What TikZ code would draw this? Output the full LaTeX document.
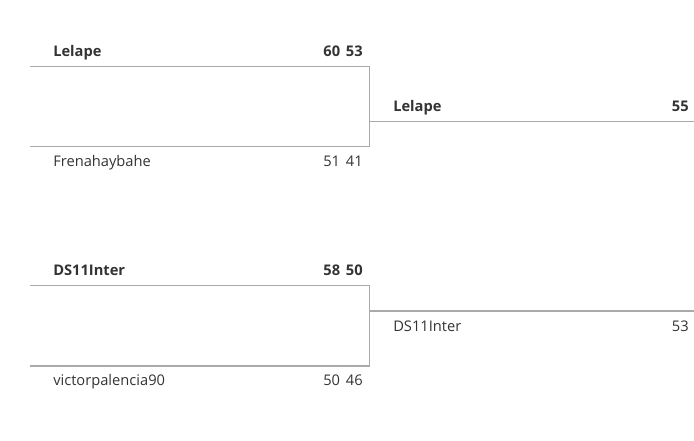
\documentclass[tikz,border=0pt]{standalone}
\usepackage{fontspec}
\setmainfont{Open Sans}
\definecolor{txt}{HTML}{333333}
\definecolor{ln}{HTML}{AAAAAA}
\newcommand{\gapsc}{\hspace{0.4em}}
\tikzset{
  nm/.style={anchor=base west, inner sep=0pt, text=txt, font=\fontsize{11}{13}\selectfont},
  sc/.style={anchor=base east, inner sep=0pt, text=txt, font=\fontsize{11}{13}\selectfont},
  win/.style={font=\fontsize{11}{13}\selectfont\bfseries},
  br/.style={draw=ln, line width=0.8pt}
}
\begin{document}
\begin{tikzpicture}[x=0.75pt,y=-0.75pt]
\useasboundingbox (0,0) rectangle (694,441);
% round 1, match 1
\node[nm,win] (a1) at (53,57) {Lelape};
\node[sc,win] (a1s) at (363,57) {60\gapsc 53};
\node[nm] (a2) at (53,167) {Frenahaybahe};
\node[sc] (a2s) at (363,167) {51\gapsc 41};
% round 1, match 2
\node[nm,win] (b1) at (53,276) {DS11Inter};
\node[sc,win] (b1s) at (363,276) {58\gapsc 50};
\node[nm] (b2) at (53,386) {victorpalencia90};
\node[sc] (b2s) at (363,386) {50\gapsc 46};
% final
\node[nm,win] (f1) at (393,112) {Lelape};
\node[sc,win] (f1s) at (689,112) {55};
\node[nm] (f2) at (393,332) {DS11Inter};
\node[sc] (f2s) at (689,332) {53};
% bracket lines
\coordinate (m1tl) at (30,66.5);
\coordinate (m1tr) at (369.5,66.5);
\coordinate (m1bl) at (30,146.5);
\coordinate (m1br) at (369.5,146.5);
\coordinate (m1o) at (369.5,121.5);
\coordinate (f1e) at (694,121.5);
\coordinate (m2tl) at (30,285.5);
\coordinate (m2tr) at (369.5,285.5);
\coordinate (m2bl) at (30,366);
\coordinate (m2br) at (369.5,366);
\coordinate (m2o) at (369.5,311);
\coordinate (f2e) at (694,311);
\draw[br] (m1tl) -- (m1tr) -- (m1br) -- (m1bl);
\draw[br] (m1o) -- (f1e);
\draw[br] (m2tl) -- (m2tr) -- (m2br) -- (m2bl);
\draw[br] (m2o) -- (f2e);
\end{tikzpicture}
\end{document}
